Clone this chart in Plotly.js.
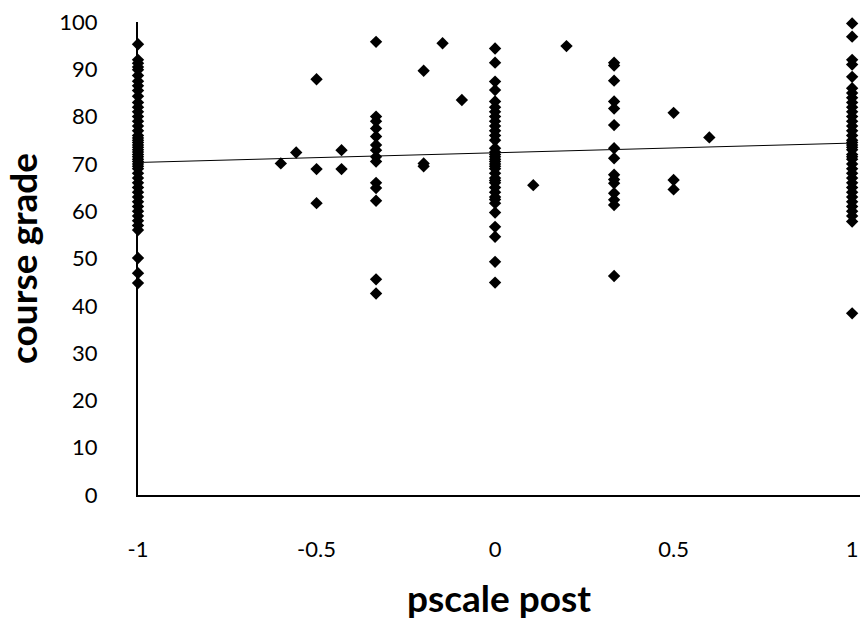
<!DOCTYPE html>
<html>
<head>
<meta charset="utf-8">
<script src="https://cdn.plot.ly/plotly-3.0.1.min.js"></script>
<style>html,body{margin:0;padding:0;background:#fff;}#chart{width:860px;height:625px;}</style>
</head>
<body>
<div id="chart"></div>
<script>
// pscale post values and course grades, one column group per x value
const colNeg1 = [95.3, 92, 91.3, 90.5, 89.9, 88.7, 87.5, 86.5, 85.5, 84.3, 83, 82, 81, 80, 79, 78, 77, 76, 75.5, 75, 74.5, 74, 73.5, 73, 72.5, 72, 71.5, 71, 70.5, 70, 69.5, 69, 68, 67, 66, 65, 64, 63, 62, 61, 60, 59, 58, 57, 56, 50.1, 46.9, 44.8];
const colNegThird = [95.8, 80, 79, 77.5, 75.8, 74, 72.9, 71.5, 70.5, 66, 64.9, 62.2, 45.6, 42.6];
const colZero = [94.4, 91.4, 87.4, 85.6, 83.2, 82, 81, 80, 79, 78, 77, 76, 75, 73.3, 72.5, 72, 71.5, 71, 70.5, 70, 69.5, 69, 68, 67, 66.5, 66, 65, 64, 63, 62.5, 61.7, 59.7, 56.7, 54.6, 49.3, 44.9];
const colThird = [91.4, 90.8, 87.6, 83.2, 81.7, 78.2, 73.3, 71.2, 67.7, 66.7, 65.9, 63.8, 62.4, 61.3, 46.3];
const colOne = [99.7, 96.9, 92, 91, 88.4, 86, 85, 84, 83, 82, 81, 80, 79, 78, 77, 76, 75, 74.5, 74, 73.5, 73, 72, 71.5, 71, 70, 69, 68, 67, 66, 65, 64, 63, 62, 61, 60, 59, 57.8, 38.4];
const otherX = [-0.6, -0.557, -0.5, -0.5, -0.5, -0.43, -0.43, -0.2, -0.2, -0.2, -0.147, -0.093, 0.107, 0.2, 0.5, 0.5, 0.5, 0.6];
const otherY = [70.1, 72.4, 87.9, 68.9, 61.7, 72.9, 68.9, 89.7, 70.1, 69.5, 95.5, 83.5, 65.5, 94.9, 80.8, 66.6, 64.6, 75.6];
// trend line endpoints
const trendX = [-1, 1];
const trendY = [70.3, 74.4];
const xTicks = [-1, -0.5, 0, 0.5, 1];
const xTickText = ['-1', '-0.5', '0', '0.5', '1'];
const yTicks = [0, 10, 20, 30, 40, 50, 60, 70, 80, 90, 100];

const xs = [], ys = [];
function addCol(xv, arr){ arr.forEach(v => { xs.push(xv); ys.push(v); }); }
addCol(-1, colNeg1);
addCol(-1/3, colNegThird);
addCol(0, colZero);
addCol(1/3, colThird);
addCol(1, colOne);
otherX.forEach((xv, i) => { xs.push(xv); ys.push(otherY[i]); });

const data = [
  {x: trendX, y: trendY, type: 'scatter', mode: 'lines', line: {color: '#000', width: 1}, hoverinfo: 'skip', cliponaxis: false},
  {x: xs, y: ys, type: 'scatter', mode: 'markers', cliponaxis: false,
   marker: {symbol: 'diamond', size: 9.5, color: '#000', line: {width: 0}}}
];
const font = "Lato, 'Open Sans', 'Liberation Sans', sans-serif";
const layout = {
  width: 860, height: 625,
  margin: {l: 138, r: 0, t: 22, b: 130},
  paper_bgcolor: '#fff', plot_bgcolor: '#fff',
  showlegend: false,
  font: {family: font, color: '#000'},
  xaxis: {
    range: [-1, 1.022], tickvals: xTicks, ticktext: xTickText,
    showgrid: false, zeroline: false, showline: true, linecolor: '#000', linewidth: 2,
    ticks: '', ticklabelstandoff: 34, tickfont: {size: 22, family: font},
    title: {text: '<b>pscale post</b>', font: {size: 37, family: font}, standoff: 25}
  },
  yaxis: {
    range: [0, 100], tickvals: yTicks,
    showgrid: false, zeroline: false, showline: true, linecolor: '#000', linewidth: 2,
    ticks: '', ticklabelstandoff: 34, tickfont: {size: 22, family: font},
    title: {text: '<b>course grade</b>', font: {size: 37, family: font}, standoff: 14}
  }
};
Plotly.newPlot('chart', data, layout, {staticPlot: true, displayModeBar: false});
</script>
</body>
</html>
